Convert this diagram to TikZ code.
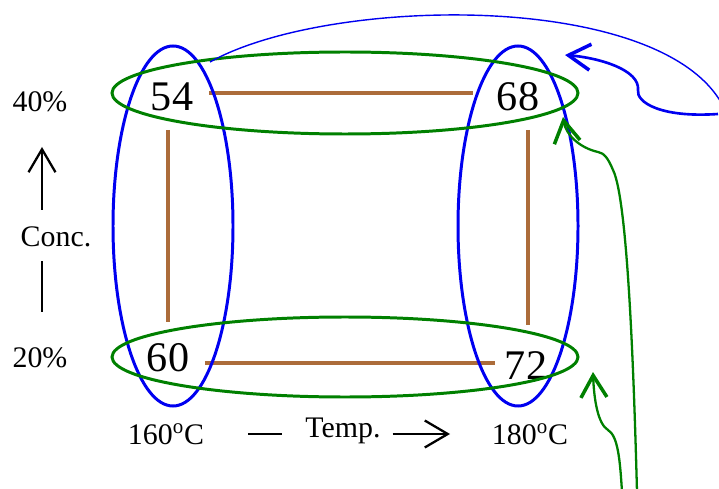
\documentclass[tikz,border=0pt]{standalone}
\usepackage{fontspec}
\setmainfont{Liberation Serif}
\usetikzlibrary{arrows.meta,positioning,calc}
\definecolor{frmbrown}{RGB}{172,108,58}
\definecolor{grpgreen}{RGB}{0,128,0}
\definecolor{grpblue}{RGB}{0,0,240}
\tikzset{
  val/.style={font=\fontsize{24}{27}\selectfont, inner sep=2pt},
  axl/.style={font=\fontsize{17}{20}\selectfont, inner sep=1pt},
  frm/.style={frmbrown, line width=1.8pt},
  bgrp/.style={grpblue, line width=1.7pt},
  ggrp/.style={grpgreen, line width=1.7pt},
  barb/.style={-{Straight Barb[length=4.4mm, width=5.2mm, line width=2pt]}},
  axarr/.style={-{Straight Barb[length=4.6mm, width=5.4mm, line width=1.3pt]}, black, line width=1.1pt},
}
\begin{document}
\begin{tikzpicture}[x=0.02cm, y=-0.02cm]
  \useasboundingbox (0,0) rectangle (719,489);
  \clip (0,0) rectangle (719,489);
  % values
  \node[val] (v54) at (172,97) {54};
  \node[val] (v68) at (518,97) {68};
  \node[val] (v60) at (168,358) {60};
  \node[val] (v72) at (526,366) {72};
  % axis labels
  \node[axl] (c40) at (40,102) {40\%};
  \node[axl] (c20) at (40,358) {20\%};
  \node[axl] (conc) at (56,237) {Conc.};
  \node[axl] (t160) at (166,434) {160\textsuperscript{o}C};
  \node[axl] (t180) at (530,434) {180\textsuperscript{o}C};
  \node[axl] (temp) at (343,431) {Temp.};
  % axis arrows
  \coordinate (cup) at (42,147);
  \coordinate (cdn) at (42,312);
  \draw[axarr] (conc.north -| cup) ++(0,-15) -- (cup);
  \draw[black, line width=1.1pt] (conc.south -| cdn) ++(0,12) -- (cdn);
  \coordinate (tlt) at (248,434);
  \coordinate (trt) at (450,434);
  \draw[black, line width=1.1pt] (tlt) -- ($(temp.west |- tlt)+(-21,0)$);
  \draw[axarr] ($(temp.east |- trt)+(10,0)$) -- (trt);
  % frame
  \draw[frm] ($(v54.east)+(12,-4)$) -- ($(v68.west)+(-20,-4)$);
  \draw[frm] ($(v60.east)+(12,5)$) -- ($(v72.west)+(-6,-3)$);
  \draw[frm] (168,130) -- (168,322);
  \draw[frm] (528,130) -- (528,325);
  % groups
  \draw[bgrp] (173,226) ellipse [x radius=60, y radius=180];
  \draw[bgrp] (518,226) ellipse [x radius=60, y radius=180];
  \draw[ggrp] (345,93) ellipse [x radius=233, y radius=41];
  \draw[ggrp] (345,357) ellipse [x radius=233, y radius=40];
  % links
  \draw[grpblue, line width=0.8pt] (210,62) .. controls (330,-5) and (670,-10) .. (725,110);
  \coordinate (bin) at (718,114);
  \draw[grpblue, line width=1.5pt, barb] (bin) .. controls (660,118) and (636,102) .. (638,90)
    .. controls (640,70) and (600,58) .. (565,55);
  \coordinate (gin1) at (637,492);
  \draw[grpgreen, line width=1.3pt, barb] (gin1) .. controls (634,380) and (628,200) .. (613,170)
    .. controls (608,158) and (604,153) .. (598,152) .. controls (580,148) and (566,135) .. (563,117);
  \coordinate (gin2) at (622,492);
  \draw[grpgreen, line width=1.3pt, barb] (gin2) .. controls (620,460) and (618,436) .. (608,430)
    .. controls (598,424) and (594,400) .. (593,372);
\end{tikzpicture}
\end{document}
